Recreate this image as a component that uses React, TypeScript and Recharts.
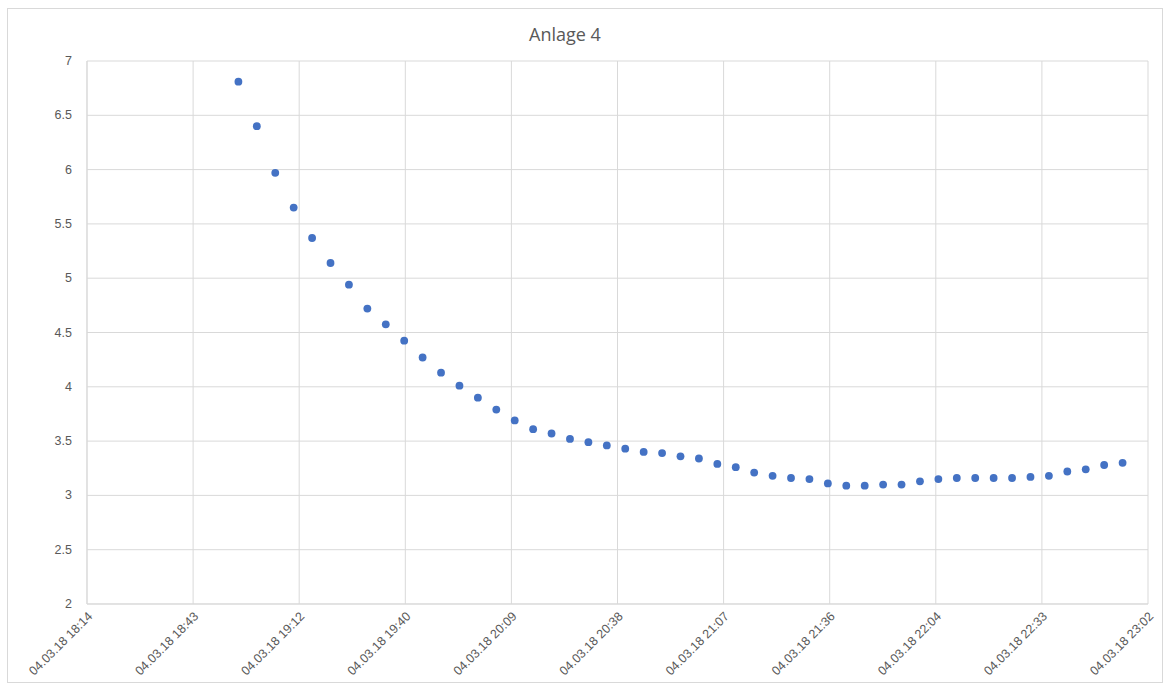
import {
  ScatterChart,
  Scatter,
  XAxis,
  YAxis,
  CartesianGrid,
} from "recharts";

// measurement times (04.03.18), hh:mm:ss
const times = [
  "18:55:30", "19:00:30", "19:05:30", "19:10:30", "19:15:30", "19:20:30", "19:25:30",
  "19:30:30", "19:35:30", "19:40:30", "19:45:30", "19:50:30", "19:55:30",
  "20:00:30", "20:05:30", "20:10:30", "20:15:30", "20:20:30", "20:25:30",
  "20:30:30", "20:35:30", "20:40:30", "20:45:30", "20:50:30", "20:55:30",
  "21:00:30", "21:05:30", "21:10:30", "21:15:30", "21:20:30", "21:25:30",
  "21:30:30", "21:35:30", "21:40:30", "21:45:30", "21:50:30", "21:55:30",
  "22:00:30", "22:05:30", "22:10:30", "22:15:30", "22:20:30", "22:25:30",
  "22:30:30", "22:35:30", "22:40:30", "22:45:30", "22:50:30", "22:55:30",
];

const values = [
  6.81, 6.4, 5.97, 5.65, 5.37, 5.14, 4.94, 4.72, 4.575, 4.425, 4.27, 4.13, 4.01,
  3.9, 3.79, 3.69, 3.61, 3.57, 3.52, 3.49, 3.46, 3.43, 3.4, 3.39, 3.36,
  3.34, 3.29, 3.26, 3.21, 3.18, 3.16, 3.15, 3.11, 3.09, 3.09, 3.1, 3.1,
  3.13, 3.15, 3.16, 3.16, 3.16, 3.16, 3.17, 3.18, 3.22, 3.24, 3.28, 3.3,
];

// x axis ticks in minutes after midnight (Excel steps of 0.02 days)
const xTicks = [1094.4, 1123.2, 1152, 1180.8, 1209.6, 1238.4, 1267.2, 1296, 1324.8, 1353.6, 1382.4];
const yTicks = [2, 2.5, 3, 3.5, 4, 4.5, 5, 5.5, 6, 6.5, 7];
const datePrefix = "04.03.18";
const title = "Anlage 4";

const toMinutes = (t: string) => {
  const [h, m, s] = t.split(":").map(Number);
  return h * 60 + m + s / 60;
};

const data = times.map((t, i) => ({ x: toMinutes(t), y: values[i] }));

const fmtTime = (min: number) => {
  const h = Math.floor(min / 60);
  const m = Math.floor(min - h * 60 + 1e-6);
  return `${datePrefix} ${String(h).padStart(2, "0")}:${String(m).padStart(2, "0")}`;
};

const XTick = (props: any) => {
  const { x, payload } = props;
  return (
    <g transform={`translate(${x + 3},${614})`}>
      <text
        textAnchor="end"
        transform="rotate(-45)"
        dy="0.35em"
        fontSize={12.5}
        fill="#595959"
        fontFamily="'Liberation Sans', Arial, sans-serif"
      >
        {fmtTime(payload.value)}
      </text>
    </g>
  );
};

const YTick = (props: any) => {
  const { y, payload } = props;
  return (
    <text
      x={72}
      y={y}
      textAnchor="end"
      dominantBaseline="central"
      fontSize={12.5}
      fill="#595959"
      fontFamily="'Liberation Sans', Arial, sans-serif"
    >
      {payload.value}
    </text>
  );
};

const Dot = (props: any) => (
  <circle cx={props.cx} cy={props.cy} r={3.9} fill="#4472C4" />
);

const App = () => {
  return (
    <div style={{ position: "absolute", left: 0, top: 0, width: 1169, height: 684, background: "#fff" }}>
      <div
        style={{
          position: "absolute",
          left: 7,
          top: 8,
          width: 1154,
          height: 673,
          border: "1px solid #d9d9d9",
        }}
      />
      <div
        style={{
          position: "absolute",
          left: 465,
          width: 200,
          top: 22,
          textAlign: "center",
          fontFamily: "'Open Sans', sans-serif",
          fontSize: 18,
          color: "#595959",
        }}
      >
        {title}
      </div>
      <div style={{ position: "absolute", left: 0, top: 0 }}>
        <ScatterChart
          width={1169}
          height={684}
          margin={{ top: 61, right: 21, bottom: 0, left: 0 }}
        >
          <CartesianGrid stroke="#d9d9d9" strokeWidth={1} />
          <XAxis
            type="number"
            dataKey="x"
            domain={[1094.4, 1382.4]}
            ticks={xTicks}
            interval={0}
            height={80}
            tick={<XTick />}
            tickLine={false}
            axisLine={{ stroke: "#d9d9d9" }}
            allowDataOverflow
          />
          <YAxis
            type="number"
            dataKey="y"
            domain={[2, 7]}
            ticks={yTicks}
            interval={0}
            width={87}
            tick={<YTick />}
            tickLine={false}
            axisLine={{ stroke: "#d9d9d9" }}
          />
          <Scatter data={data} shape={<Dot />} isAnimationActive={false} />
        </ScatterChart>
      </div>
    </div>
  );
};

export default App;
